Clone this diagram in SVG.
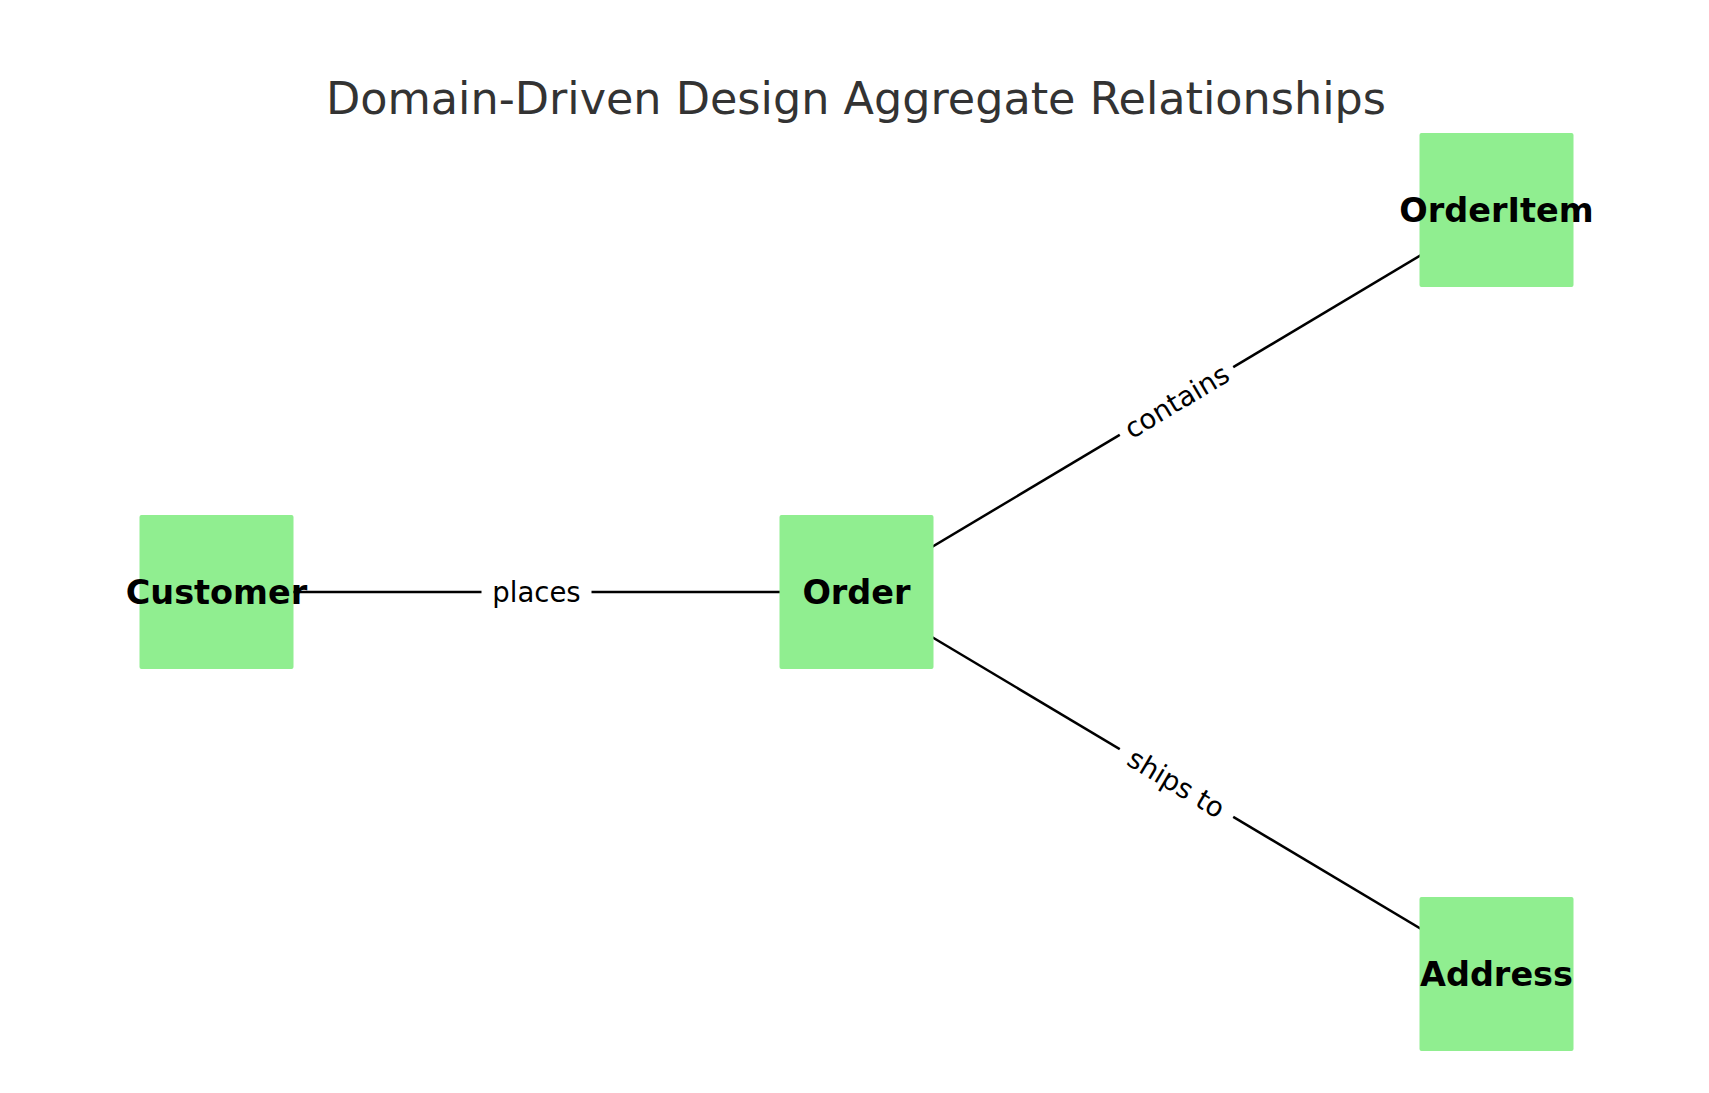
<svg xmlns="http://www.w3.org/2000/svg" width="1709" height="1093" viewBox="0 0 1709 1093">
<style>
.node rect{fill:#90EE90;}
.node text{font-family:"DejaVu Sans",sans-serif;font-weight:bold;font-size:33.5px;fill:#000;text-anchor:middle;dominant-baseline:central;}
.edge line{stroke:#000;stroke-width:2.5;}
.lbl rect{fill:#fff;}
.lbl text{font-family:"DejaVu Sans",sans-serif;font-size:27.5px;fill:#000;text-anchor:middle;dominant-baseline:central;}
.title{font-family:"DejaVu Sans",sans-serif;font-size:44.5px;fill:#333;text-anchor:middle;}
</style>
<rect width="1709" height="1093" fill="#fff"/>
<text class="title" x="856" y="114">Domain-Driven Design Aggregate Relationships</text>
<g id="connectors">
<g class="edge"><line x1="216.5" y1="592" x2="856.5" y2="592"/></g>
<g class="edge"><line x1="856.5" y1="592" x2="1496.5" y2="210"/></g>
<g class="edge"><line x1="856.5" y1="592" x2="1496.5" y2="974"/></g>
<g class="lbl" transform="translate(536.5,592)"><rect x="-55" y="-15" width="110" height="30"/><text x="0" y="0">places</text></g>
<g class="lbl" transform="translate(1176.5,401) rotate(-30.8)"><rect x="-66" y="-15" width="132" height="30"/><text x="0" y="0">contains</text></g>
<g class="lbl" transform="translate(1176.5,783) rotate(30.8)"><rect x="-66" y="-15" width="132" height="30"/><text x="0" y="0">ships to</text></g>
</g>
<g id="node-customer" class="node"><rect x="139.5" y="515" width="154" height="154" rx="2"/><text x="216.5" y="592">Customer</text></g>
<g id="node-order" class="node"><rect x="779.5" y="515" width="154" height="154" rx="2"/><text x="856.5" y="592">Order</text></g>
<g id="node-orderitem" class="node"><rect x="1419.5" y="133" width="154" height="154" rx="2"/><text x="1496.5" y="210">OrderItem</text></g>
<g id="node-address" class="node"><rect x="1419.5" y="897" width="154" height="154" rx="2"/><text x="1496.5" y="974">Address</text></g>
</svg>
